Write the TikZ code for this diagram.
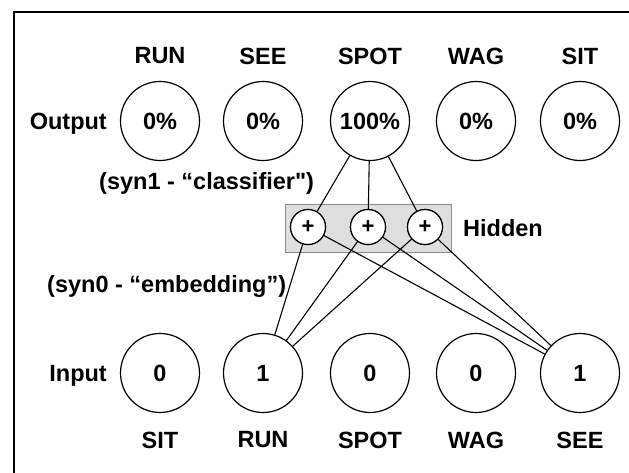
\documentclass[tikz,border=0pt]{standalone}
\usepackage{fontspec}
\newfontfamily\lblfont{Liberation Sans}
\begin{document}
\begin{tikzpicture}[x=1pt,y=-1pt,
  txt/.style={font=\lblfont\bfseries\fontsize{23.5}{27}\selectfont, inner sep=0pt},
  neuron/.style={draw, circle, line width=1.2pt, minimum size=79pt, inner sep=0pt, fill=white,
    font=\lblfont\bfseries\fontsize{23.5}{27}\selectfont},
  hid/.style={draw, circle, line width=1.2pt, minimum size=35pt, inner sep=0pt, fill=white,
    font=\lblfont\bfseries\fontsize{22}{25}\selectfont},
  link/.style={line width=1.1pt},
  hbox/.style={draw=black!45, fill=black!13, line width=1pt, minimum width=166pt, minimum height=48pt, inner sep=0pt}]
\useasboundingbox (0,0) rectangle (629,472);
% frame
\draw[line width=2pt] (629,12) -- (14,12) -- (14,473);

% top labels
\node[txt] (tRUN)  at (160,56) {RUN};
\node[txt] (tSEE)  at (263,56) {SEE};
\node[txt] (tSPOT) at (370,56) {SPOT};
\node[txt] (tWAG)  at (476,56) {WAG};
\node[txt] (tSIT)  at (580,56) {SIT};

% output row
\node[txt, anchor=base east] (outlbl) at (107,129) {Output};
\node[neuron] (o1) at (160,121) {0\%};
\node[neuron] (o2) at (263,121) {0\%};
\node[neuron] (o3) at (370,121) {100\%};
\node[neuron] (o4) at (476,121) {0\%};
\node[neuron] (o5) at (580,121) {0\%};

\node[txt, anchor=base west] (syn1) at (99,189) {(syn1 - “classifier")};

% hidden
\node[hbox] (box) at (368,228) {};
\node[txt, anchor=base west] (hidlbl) at (463,236) {Hidden};

% input row
\node[txt, anchor=base east] (inlbl) at (107,381) {Input};
\node[neuron] (i1) at (160,373) {0};
\node[neuron] (i2) at (263,373) {1};
\node[neuron] (i3) at (370,373) {0};
\node[neuron] (i4) at (476,373) {0};
\node[neuron] (i5) at (580,373) {1};

\node[txt, anchor=base west] (syn0) at (47,292) {(syn0 - “embedding”)};

% bottom labels
\node[txt] (bSIT)  at (160,440) {SIT};
\node[txt] (bRUN)  at (263,440) {RUN};
\node[txt] (bSPOT) at (370,440) {SPOT};
\node[txt] (bWAG)  at (476,440) {WAG};
\node[txt] (bSEE)  at (580,440) {SEE};

% hidden nodes
\node[hid] (h1) at (308,227) {+};
\node[hid] (h2) at (368,227) {+};
\node[hid] (h3) at (425,227) {+};

% links
\foreach \h in {h1,h2,h3} {
  \draw[link] (o3) -- (\h);
  \draw[link] (i2) -- (\h);
  \draw[link] (i5) -- (\h);
}
% redraw hidden nodes on top
\node[hid] at (h1) {+};
\node[hid] at (h2) {+};
\node[hid] at (h3) {+};
\end{tikzpicture}
\end{document}
